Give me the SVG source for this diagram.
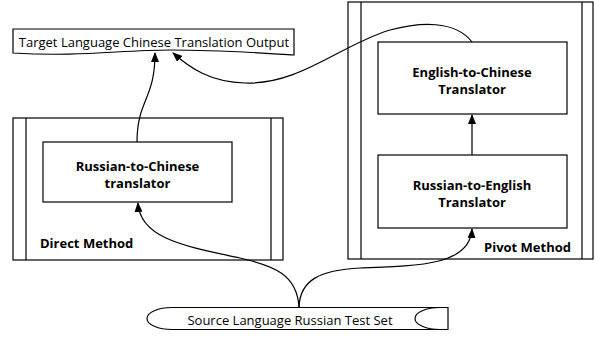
<svg xmlns="http://www.w3.org/2000/svg" width="595" height="338" viewBox="0 0 595 338">
<defs>
<style>
.shape{fill:#fff;stroke:#000;stroke-width:1.2}
.line{fill:none;stroke:#000;stroke-width:1.2}
.lbl{font-family:"Open Sans","Noto Sans","DejaVu Sans",sans-serif;font-size:13px;fill:#000}
.b{font-weight:bold;text-anchor:middle}
.bl{font-weight:bold}
.n{text-anchor:middle}
</style>
<marker id="arr" markerWidth="10" markerHeight="8" refX="9" refY="4" orient="auto" markerUnits="userSpaceOnUse">
<path d="M0,0 L10,4 L0,8 Z" fill="#000"/>
</marker>
</defs>
<rect width="595" height="338" fill="#fff"/>
<g id="direct-container">
<rect class="shape" x="13" y="118" width="270" height="142"/>
<line class="line" x1="26" y1="118" x2="26" y2="260"/>
<line class="line" x1="271" y1="118" x2="271" y2="260"/>
<text class="lbl bl" x="40" y="248">Direct Method</text>
</g>
<g id="pivot-container">
<rect class="shape" x="348" y="2" width="245" height="257"/>
<line class="line" x1="361" y1="2" x2="361" y2="259"/>
<line class="line" x1="582" y1="2" x2="582" y2="259"/>
<text class="lbl bl" x="484" y="252">Pivot Method</text>
</g>
<g id="target-output">
<path class="shape" d="M13,29 H294 V55 C260,53 220,50 170,50 C120,50 80,57 13,53 Z"/>
<text class="lbl n" x="154" y="47">Target Language Chinese Translation Output</text>
</g>
<g id="ru-zh">
<rect class="shape" x="43" y="142" width="189" height="60"/>
<text class="lbl b" x="137.5" y="171">Russian-to-Chinese</text>
<text class="lbl b" x="137.5" y="188">translator</text>
</g>
<g id="en-zh">
<rect class="shape" x="378" y="42" width="189" height="72"/>
<text class="lbl b" x="472" y="77">English-to-Chinese</text>
<text class="lbl b" x="472" y="94">Translator</text>
</g>
<g id="ru-en">
<rect class="shape" x="378" y="155" width="189" height="73"/>
<text class="lbl b" x="472" y="190">Russian-to-English</text>
<text class="lbl b" x="472" y="207">Translator</text>
</g>
<g id="source">
<path class="shape" d="M172,307.5 H448 V329.5 H172 A25,11 0 0 1 172,307.5 Z"/>
<path class="line" d="M440,307.5 A25,11 0 0 0 440,329.5"/>
<text class="lbl n" x="290" y="325">Source Language Russian Test Set</text>
</g>
<g id="connectors">
<path class="line" d="M137,142 C137,100 155,100 155,53" marker-end="url(#arr)"/>
<path class="line" d="M472,42 C455,20 420,22 390,30 C340,45 300,85 245,83 C210,82 190,68 173,53" marker-end="url(#arr)"/>
<path class="line" d="M472,155 V115" marker-end="url(#arr)"/>
<path class="line" d="M299,307 C297,275 275,266 240,258 C190,247 140,240 138,203" marker-end="url(#arr)"/>
<path class="line" d="M299,307 C300,280 320,270 360,268 C420,266 470,265 472,229" marker-end="url(#arr)"/>
</g>
</svg>
